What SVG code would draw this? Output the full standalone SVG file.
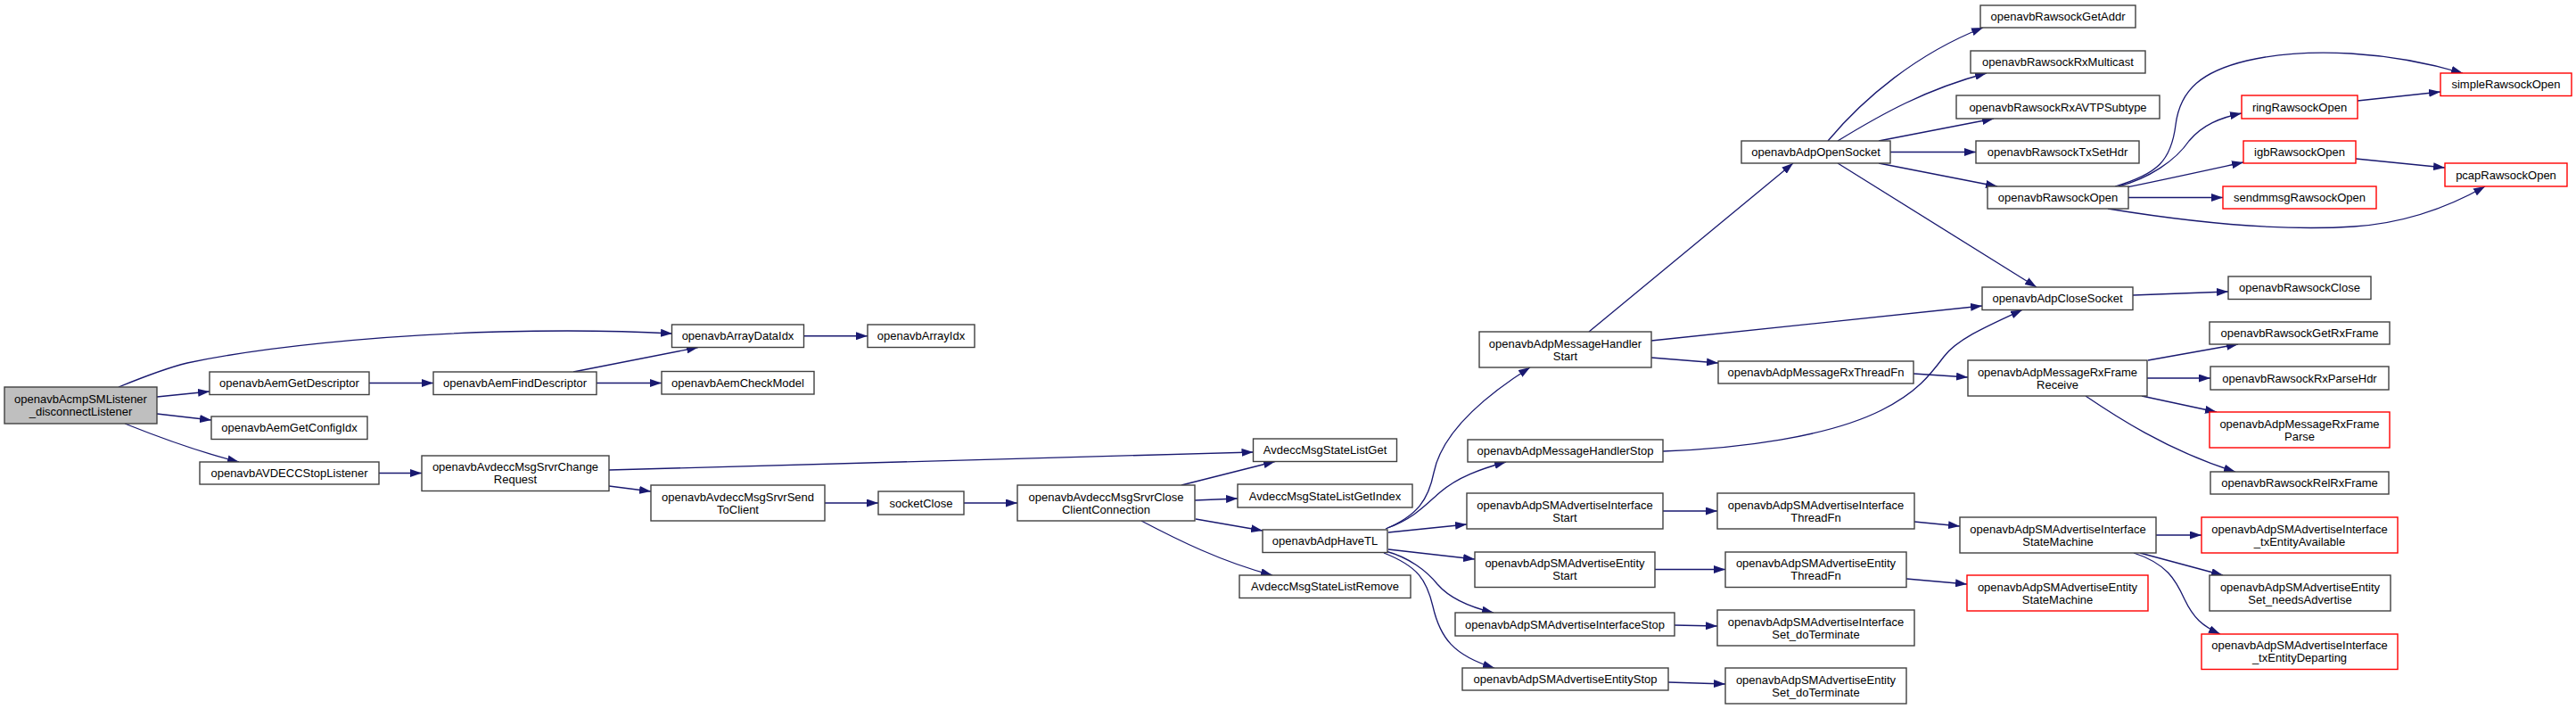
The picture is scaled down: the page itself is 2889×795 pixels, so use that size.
<svg xmlns="http://www.w3.org/2000/svg" width="2889" height="795" viewBox="0 0 2889 795">
<style>
.n rect{fill:#fff;stroke:#404040;stroke-width:1.4}
.n.r rect{stroke:#ff0000}
.n.root rect{fill:#bfbfbf}
text{font-family:"Liberation Sans",Arial,Helvetica,sans-serif;font-size:13px;text-anchor:middle;fill:#000}
.e path{fill:none;stroke:#191970;stroke-width:1.3;marker-end:url(#a)}
</style>
<defs>
<marker id="a" markerUnits="userSpaceOnUse" markerWidth="13" markerHeight="9" refX="13" refY="4.5" orient="auto" viewBox="0 0 13 9">
<path d="M0,0 L13,4.5 L0,9 z" fill="#191970"/>
</marker>
</defs>
<rect width="2889" height="795" fill="#fff"/>
<g id="edges" class="e">
<path d="M133,434 C160,423 185,413 210,407 C290,390 420,376 560,372 C640,370 700,371 754,374"/>
<path d="M176,445 L235,439"/>
<path d="M176,464 L237,471"/>
<path d="M140,475 C180,491 220,506 268,518"/>
<path d="M414,429.5 L486,429.5"/>
<path d="M643,417 L783,389.5"/>
<path d="M669,429.5 L742,429.5"/>
<path d="M425,530.5 L473,530.5"/>
<path d="M683,527 L1405.5,507"/>
<path d="M683,545 L730,551"/>
<path d="M925,564 L985,564"/>
<path d="M1081,564 L1141,564"/>
<path d="M1325,544 L1430,517.5"/>
<path d="M1340,561 L1388,559"/>
<path d="M1341,582 L1416,595"/>
<path d="M1280,584 C1320,605 1370,630 1427,645"/>
<path d="M1554,593 C1590,578 1602,560 1608,530 C1614,500 1640,460 1716,412"/>
<path d="M1556,592 C1585,582 1600,565 1615,552 C1635,535 1660,526 1689,518"/>
<path d="M1557,597 L1645,588"/>
<path d="M1557,616 L1654,627"/>
<path d="M1554,618 C1580,625 1600,640 1612,655 C1625,670 1645,680 1675,687"/>
<path d="M1552,620 C1590,635 1600,650 1607,680 C1615,715 1630,735 1676,749"/>
<path d="M1782,372 L2011,183"/>
<path d="M1852,382 L2223,343"/>
<path d="M1852,401 L1927,407"/>
<path d="M1865,506 C1950,503 2050,490 2110,460 C2150,440 2165,420 2180,400 C2195,380 2230,365 2268,347.5"/>
<path d="M2146,419 L2207,423"/>
<path d="M1865,573 L1926,573"/>
<path d="M1856,638.5 L1935,638.5"/>
<path d="M1878,701 L1926,702"/>
<path d="M1871,765 L1935,767"/>
<path d="M2147,585 L2198,590"/>
<path d="M2138,649 L2206,655"/>
<path d="M2050,158 C2090,110 2150,60 2224,31"/>
<path d="M2061,158 C2110,128 2160,100 2228,82"/>
<path d="M2107,158 L2236,133"/>
<path d="M2120,170.5 L2216,170.5"/>
<path d="M2107,183 L2240,209"/>
<path d="M2061,183 L2284,322"/>
<path d="M2392,331 L2499,327"/>
<path d="M2409,404 L2510,386"/>
<path d="M2408,424 L2479,424"/>
<path d="M2402,444 L2486,462"/>
<path d="M2339,444 C2370,465 2430,505 2507,529"/>
<path d="M2418,600 L2469,600"/>
<path d="M2400,620 L2493,645"/>
<path d="M2393,620 C2430,632 2440,650 2450,672 C2460,693 2470,702 2490,711"/>
<path d="M2372,209 C2420,195 2435,180 2440,140 C2445,100 2470,80 2520,68 C2590,52 2680,58 2762,82"/>
<path d="M2376,209 C2410,200 2440,180 2455,158 C2470,140 2490,132 2514,127"/>
<path d="M2380,211 C2420,203 2470,192 2516,182"/>
<path d="M2386,221.5 L2493,221.5"/>
<path d="M2364,234 C2450,248 2550,260 2640,254 C2700,250 2750,230 2787,209"/>
<path d="M2644,113 L2737,103"/>
<path d="M2642,178 L2742,188"/>
<path d="M901.5,376.75 L973,376.75"/>
</g>
<g id="n_root" class="n root"><rect x="5" y="434" width="171" height="41"/><text x="90.5" y="452">openavbAcmpSMListener</text><text x="90.5" y="466">_disconnectListener</text></g>
<g id="n_getdesc" class="n"><rect x="235" y="417" width="179" height="25.5"/><text x="324.5" y="434.3">openavbAemGetDescriptor</text></g>
<g id="n_getcfg" class="n"><rect x="237" y="467" width="175" height="25.5"/><text x="324.5" y="484.3">openavbAemGetConfigIdx</text></g>
<g id="n_stoplis" class="n"><rect x="224" y="518" width="201" height="25"/><text x="324.5" y="535">openavbAVDECCStopListener</text></g>
<g id="n_finddesc" class="n"><rect x="486" y="417" width="183" height="25.5"/><text x="577.5" y="434.3">openavbAemFindDescriptor</text></g>
<g id="n_chgreq" class="n"><rect x="473" y="511" width="210" height="39.5"/><text x="578" y="528.2">openavbAvdeccMsgSrvrChange</text><text x="578" y="542.2">Request</text></g>
<g id="n_arrdata" class="n"><rect x="753.5" y="364" width="148" height="25.5"/><text x="827.5" y="381.3">openavbArrayDataIdx</text></g>
<g id="n_chkmodel" class="n"><rect x="742" y="416.5" width="171" height="25.5"/><text x="827.5" y="433.8">openavbAemCheckModel</text></g>
<g id="n_sendcli" class="n"><rect x="730" y="544" width="195" height="40"/><text x="827.5" y="561.5">openavbAvdeccMsgSrvrSend</text><text x="827.5" y="575.5">ToClient</text></g>
<g id="n_arridx" class="n"><rect x="973" y="364" width="120" height="25.5"/><text x="1033" y="381.3">openavbArrayIdx</text></g>
<g id="n_sockclose" class="n"><rect x="985" y="551" width="96" height="26"/><text x="1033" y="568.5">socketClose</text></g>
<g id="n_closecc" class="n"><rect x="1141" y="544" width="199" height="40"/><text x="1240.5" y="561.5">openavbAvdeccMsgSrvrClose</text><text x="1240.5" y="575.5">ClientConnection</text></g>
<g id="n_slget" class="n"><rect x="1405.5" y="492" width="161" height="25.5"/><text x="1486" y="509.3">AvdeccMsgStateListGet</text></g>
<g id="n_slgetidx" class="n"><rect x="1388" y="543" width="196" height="26"/><text x="1486" y="560.5">AvdeccMsgStateListGetIndex</text></g>
<g id="n_havetl" class="n"><rect x="1416" y="594" width="140" height="25.5"/><text x="1486" y="611.3">openavbAdpHaveTL</text></g>
<g id="n_slremove" class="n"><rect x="1390" y="645" width="192" height="25.5"/><text x="1486" y="662.3">AvdeccMsgStateListRemove</text></g>
<g id="n_hstart" class="n"><rect x="1659" y="372" width="193" height="40"/><text x="1755.5" y="389.5">openavbAdpMessageHandler</text><text x="1755.5" y="403.5">Start</text></g>
<g id="n_hstop" class="n"><rect x="1646" y="493" width="219" height="25"/><text x="1755.5" y="510">openavbAdpMessageHandlerStop</text></g>
<g id="n_ifstart" class="n"><rect x="1645" y="553" width="220" height="40"/><text x="1755" y="570.5">openavbAdpSMAdvertiseInterface</text><text x="1755" y="584.5">Start</text></g>
<g id="n_entstart" class="n"><rect x="1654" y="619" width="202" height="39.5"/><text x="1755" y="636.2">openavbAdpSMAdvertiseEntity</text><text x="1755" y="650.2">Start</text></g>
<g id="n_ifstop" class="n"><rect x="1632" y="687" width="246" height="26"/><text x="1755" y="704.5">openavbAdpSMAdvertiseInterfaceStop</text></g>
<g id="n_entstop" class="n"><rect x="1640" y="749" width="231" height="25"/><text x="1755.5" y="766">openavbAdpSMAdvertiseEntityStop</text></g>
<g id="n_opensock" class="n"><rect x="1953" y="158" width="167" height="25"/><text x="2036.5" y="175">openavbAdpOpenSocket</text></g>
<g id="n_rxthread" class="n"><rect x="1927" y="405" width="219" height="25"/><text x="2036.5" y="422">openavbAdpMessageRxThreadFn</text></g>
<g id="n_ifthread" class="n"><rect x="1926" y="553" width="221" height="40"/><text x="2036.5" y="570.5">openavbAdpSMAdvertiseInterface</text><text x="2036.5" y="584.5">ThreadFn</text></g>
<g id="n_entthread" class="n"><rect x="1935" y="619" width="203" height="39.5"/><text x="2036.5" y="636.2">openavbAdpSMAdvertiseEntity</text><text x="2036.5" y="650.2">ThreadFn</text></g>
<g id="n_ifsetterm" class="n"><rect x="1926" y="684" width="221" height="40"/><text x="2036.5" y="701.5">openavbAdpSMAdvertiseInterface</text><text x="2036.5" y="715.5">Set_doTerminate</text></g>
<g id="n_entsetterm" class="n"><rect x="1935" y="749" width="203" height="40"/><text x="2036.5" y="766.5">openavbAdpSMAdvertiseEntity</text><text x="2036.5" y="780.5">Set_doTerminate</text></g>
<g id="n_getaddr" class="n"><rect x="2221" y="6" width="174" height="25"/><text x="2308" y="23">openavbRawsockGetAddr</text></g>
<g id="n_rxmcast" class="n"><rect x="2210" y="57" width="196" height="25"/><text x="2308" y="74">openavbRawsockRxMulticast</text></g>
<g id="n_rxavtp" class="n"><rect x="2194" y="107" width="228" height="26"/><text x="2308" y="124.5">openavbRawsockRxAVTPSubtype</text></g>
<g id="n_txsethdr" class="n"><rect x="2216" y="158" width="183" height="25"/><text x="2307.5" y="175">openavbRawsockTxSetHdr</text></g>
<g id="n_rsopen" class="n"><rect x="2229" y="209" width="158" height="25"/><text x="2308" y="226">openavbRawsockOpen</text></g>
<g id="n_closesock" class="n"><rect x="2223" y="322" width="169" height="25.5"/><text x="2307.5" y="339.3">openavbAdpCloseSocket</text></g>
<g id="n_rxfrecv" class="n"><rect x="2207" y="404" width="201" height="40"/><text x="2307.5" y="421.5">openavbAdpMessageRxFrame</text><text x="2307.5" y="435.5">Receive</text></g>
<g id="n_ifsm" class="n"><rect x="2198" y="580" width="220" height="40"/><text x="2308" y="597.5">openavbAdpSMAdvertiseInterface</text><text x="2308" y="611.5">StateMachine</text></g>
<g id="n_entsm" class="n r"><rect x="2206" y="645" width="203" height="40"/><text x="2307.5" y="662.5">openavbAdpSMAdvertiseEntity</text><text x="2307.5" y="676.5">StateMachine</text></g>
<g id="n_ring" class="n r"><rect x="2514" y="107" width="130" height="26"/><text x="2579" y="124.5">ringRawsockOpen</text></g>
<g id="n_igb" class="n r"><rect x="2516" y="158" width="126" height="25"/><text x="2579" y="175">igbRawsockOpen</text></g>
<g id="n_sendmmsg" class="n r"><rect x="2493" y="209" width="172" height="25"/><text x="2579" y="226">sendmmsgRawsockOpen</text></g>
<g id="n_rsclose" class="n"><rect x="2499" y="310" width="160" height="25.5"/><text x="2579" y="327.3">openavbRawsockClose</text></g>
<g id="n_getrx" class="n"><rect x="2478" y="361" width="202" height="25"/><text x="2579" y="378">openavbRawsockGetRxFrame</text></g>
<g id="n_rxparse" class="n"><rect x="2479" y="411" width="200" height="26"/><text x="2579" y="428.5">openavbRawsockRxParseHdr</text></g>
<g id="n_rxfparse" class="n r"><rect x="2478" y="462" width="202" height="40"/><text x="2579" y="479.5">openavbAdpMessageRxFrame</text><text x="2579" y="493.5">Parse</text></g>
<g id="n_relrx" class="n"><rect x="2479" y="529" width="200" height="25"/><text x="2579" y="546">openavbRawsockRelRxFrame</text></g>
<g id="n_txavail" class="n r"><rect x="2469" y="580" width="220" height="40"/><text x="2579" y="597.5">openavbAdpSMAdvertiseInterface</text><text x="2579" y="611.5">_txEntityAvailable</text></g>
<g id="n_needsadv" class="n"><rect x="2478" y="645" width="203" height="40"/><text x="2579.5" y="662.5">openavbAdpSMAdvertiseEntity</text><text x="2579.5" y="676.5">Set_needsAdvertise</text></g>
<g id="n_txdepart" class="n r"><rect x="2469" y="711" width="220" height="39.5"/><text x="2579" y="728.2">openavbAdpSMAdvertiseInterface</text><text x="2579" y="742.2">_txEntityDeparting</text></g>
<g id="n_simple" class="n r"><rect x="2737" y="82" width="147" height="25.5"/><text x="2810.5" y="99.3">simpleRawsockOpen</text></g>
<g id="n_pcap" class="n r"><rect x="2742" y="183" width="137" height="26"/><text x="2810.5" y="200.5">pcapRawsockOpen</text></g>
</svg>
